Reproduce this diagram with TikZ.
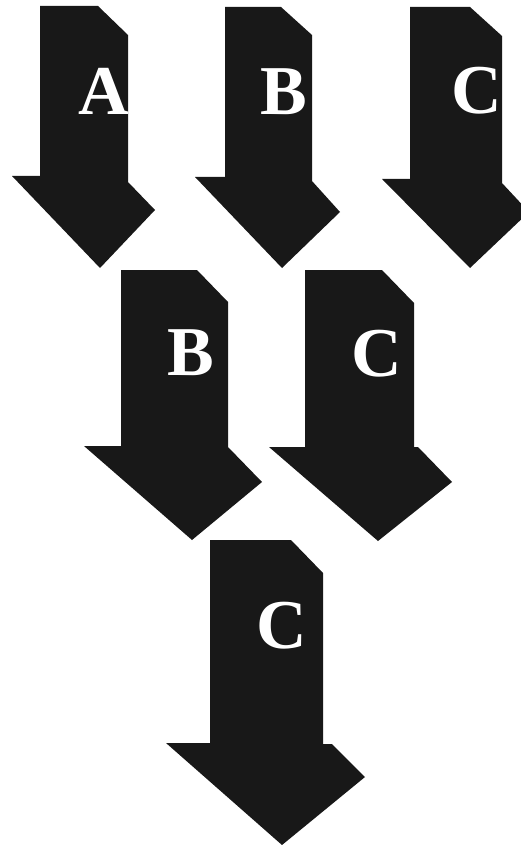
\documentclass[tikz,border=0pt]{standalone}
\usepackage{fontspec}
\setmainfont{Liberation Serif}
\definecolor{arrowfill}{RGB}{24,24,24}
\tikzset{
  blockarrow/.style={fill=arrowfill, draw=none},
  letter/.style={text=white, inner sep=0pt, font=\fontsize{70}{70}\selectfont\bfseries}
}
\begin{document}
\begin{tikzpicture}[x=1pt, y=-1pt]
\useasboundingbox (0,0) rectangle (521,845);
\clip (0,0) rectangle (521,845);
% row 1
\fill[blockarrow] (40,6) -- (98,6) -- (128,35) -- (128,182) -- (155,210) -- (100,268) -- (12,176) -- (40,176) -- cycle;
\fill[blockarrow] (225,7) -- (281,7) -- (312,35) -- (312,181) -- (340,212) -- (282,268) -- (195,177) -- (225,177) -- cycle;
\fill[blockarrow] (410,7) -- (470,7) -- (502,36) -- (502,183) -- (529,212) -- (470,268) -- (382,179) -- (410,179) -- cycle;
% row 2
\fill[blockarrow] (121,270) -- (197,270) -- (228,302) -- (228,447) -- (262,482) -- (192,540) -- (84,446) -- (121,446) -- cycle;
\fill[blockarrow] (305,270) -- (382,270) -- (414,303) -- (414,447) -- (418,447) -- (452,482) -- (378,541) -- (269,447) -- (305,447) -- cycle;
% row 3
\fill[blockarrow] (210,540) -- (291,540) -- (323,573) -- (323,744) -- (332,744) -- (365,777) -- (282,845) -- (166,743) -- (210,743) -- cycle;
% letters
\node[letter] (la) at (104,91.5) {A};
\node[letter] (lb1) at (284,92) {B};
\node[letter] (lc1) at (477,91) {C};
\node[letter] (lb2) at (191,353) {B};
\node[letter] (lc2) at (377,354) {C};
\node[letter] (lc3) at (282,625.5) {C};
\end{tikzpicture}
\end{document}
